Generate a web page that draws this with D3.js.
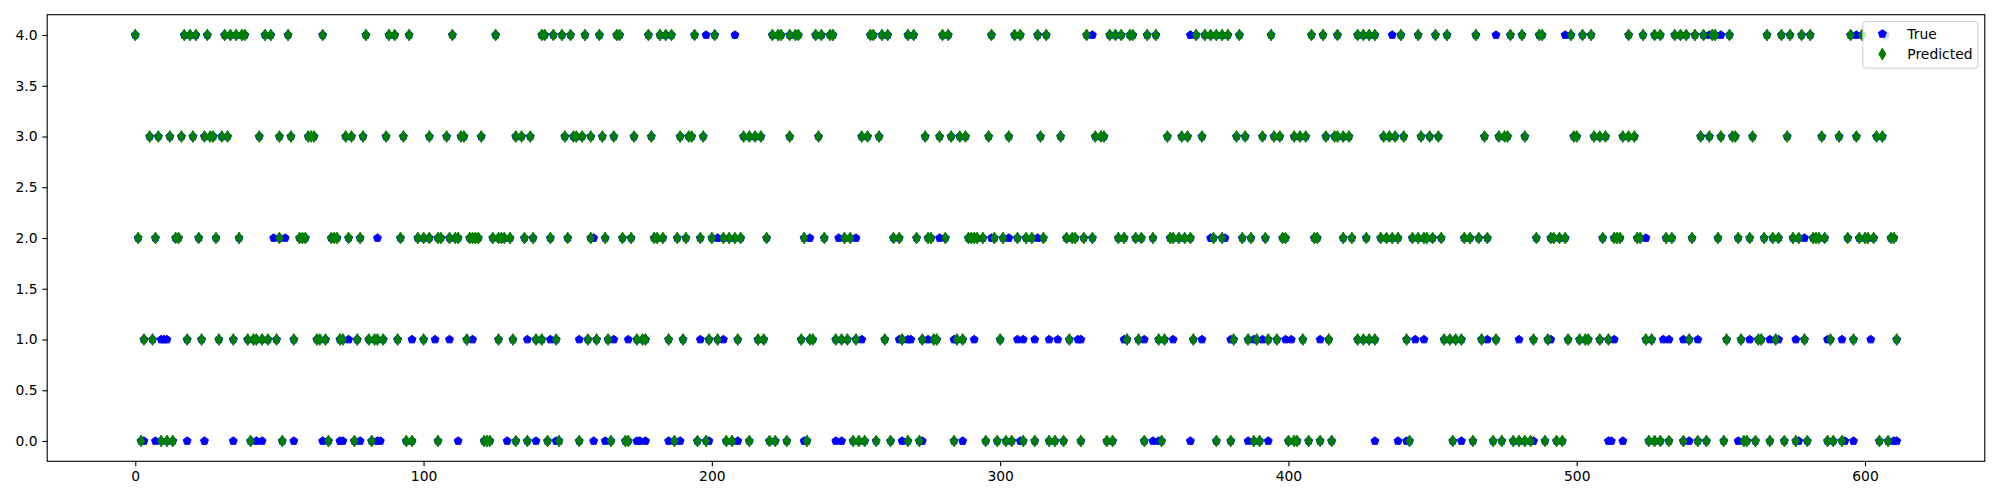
<!DOCTYPE html>
<html>
<head>
<meta charset="utf-8">
<script src="https://cdn.jsdelivr.net/npm/d3@7"></script>
<style>
html, body { margin: 0; padding: 0; background: #ffffff; }
svg { display: block; }
text { font-family: "DejaVu Sans", sans-serif; }
</style>
</head>
<body>
<svg id="chart" width="2000" height="500"></svg>
<script>
// ---------------- data ----------------
const classes = [0, 1, 2, 3, 4];
const sampleCount = 612;
const xTicks = [0, 100, 200, 300, 400, 500, 600];
const yTicks = [0.0, 0.5, 1.0, 1.5, 2.0, 2.5, 3.0, 3.5, 4.0];
const seriesNames = ["True", "Predicted"];

// indices where the predicted class is 0..4 (green diamonds)
const predicted0 = [2, 9, 11, 13, 40, 51, 67, 76, 82, 94, 96, 105, 121, 122, 123, 132, 136, 143, 147, 154, 165, 170, 171, 187, 195, 198, 205, 207, 213, 220, 222, 226, 233, 249, 251, 253, 257, 262, 268, 272, 284, 295, 299, 302, 304, 308, 312, 317, 319, 322, 328, 337, 339, 350, 356, 375, 380, 388, 390, 400, 402, 403, 407, 411, 415, 442, 457, 464, 471, 474, 478, 480, 482, 484, 489, 493, 495, 525, 527, 529, 532, 537, 542, 545, 551, 558, 559, 562, 567, 572, 576, 580, 587, 589, 592, 605, 608];
const predicted1 = [3, 6, 18, 23, 29, 34, 39, 41, 42, 44, 46, 49, 55, 63, 64, 66, 71, 72, 77, 81, 83, 84, 86, 91, 100, 115, 126, 131, 139, 141, 146, 157, 160, 164, 174, 176, 177, 185, 190, 199, 202, 209, 216, 218, 231, 234, 235, 243, 245, 247, 250, 260, 266, 273, 277, 278, 285, 287, 300, 324, 344, 348, 355, 357, 367, 381, 386, 389, 393, 396, 405, 414, 424, 426, 428, 430, 441, 454, 456, 458, 460, 467, 472, 485, 490, 497, 501, 503, 504, 508, 511, 524, 526, 539, 552, 557, 563, 564, 569, 579, 588, 596, 611];
const predicted2 = [1, 7, 14, 15, 22, 28, 36, 50, 57, 58, 59, 68, 69, 70, 74, 78, 92, 98, 100, 102, 105, 106, 109, 111, 112, 116, 117, 118, 119, 124, 126, 127, 128, 130, 135, 138, 144, 150, 158, 163, 169, 172, 180, 181, 183, 188, 191, 196, 200, 204, 206, 208, 210, 219, 232, 239, 246, 248, 263, 265, 271, 275, 276, 281, 289, 290, 291, 292, 294, 298, 301, 306, 309, 311, 315, 323, 325, 326, 329, 332, 341, 343, 347, 349, 353, 359, 360, 362, 364, 366, 374, 377, 384, 387, 392, 398, 399, 409, 410, 419, 422, 427, 432, 434, 436, 438, 443, 445, 447, 448, 450, 453, 461, 463, 466, 469, 486, 491, 492, 494, 496, 509, 513, 514, 515, 521, 522, 531, 533, 540, 549, 556, 560, 565, 568, 570, 575, 577, 582, 583, 584, 586, 594, 598, 600, 601, 603, 609, 610];
const predicted3 = [5, 8, 12, 16, 20, 24, 26, 27, 30, 32, 43, 50, 54, 60, 61, 62, 73, 75, 79, 87, 93, 102, 108, 113, 114, 120, 132, 134, 137, 149, 152, 153, 155, 158, 162, 166, 173, 179, 189, 192, 193, 197, 211, 213, 215, 217, 227, 237, 252, 254, 258, 274, 279, 283, 286, 288, 296, 303, 314, 321, 333, 335, 336, 358, 363, 365, 370, 382, 385, 391, 395, 397, 402, 404, 406, 413, 416, 417, 419, 421, 433, 435, 437, 440, 446, 449, 452, 468, 473, 475, 476, 482, 499, 500, 506, 508, 510, 516, 518, 520, 543, 546, 550, 554, 555, 561, 573, 585, 591, 597, 604, 606];
const predicted4 = [0, 17, 19, 21, 25, 31, 33, 35, 37, 38, 45, 47, 53, 65, 80, 88, 90, 95, 110, 125, 141, 142, 145, 148, 151, 156, 161, 167, 168, 178, 182, 184, 186, 194, 201, 221, 223, 224, 227, 229, 230, 236, 238, 241, 242, 255, 256, 259, 261, 268, 270, 280, 282, 297, 305, 307, 313, 316, 330, 338, 340, 342, 345, 346, 351, 354, 368, 371, 373, 375, 377, 379, 383, 394, 408, 412, 417, 424, 426, 428, 430, 439, 445, 451, 455, 465, 477, 481, 487, 488, 498, 502, 505, 518, 523, 527, 529, 534, 536, 538, 541, 544, 547, 548, 553, 566, 571, 574, 578, 581, 595, 599, 607];

// indices where the true class differs from the prediction (visible blue pentagons)
const trueMismatch0 = [3, 7, 18, 24, 34, 42, 44, 55, 65, 71, 72, 78, 84, 85, 112, 129, 139, 146, 159, 163, 174, 175, 177, 185, 189, 199, 209, 232, 243, 245, 266, 273, 287, 307, 353, 355, 366, 386, 393, 430, 438, 441, 460, 485, 511, 512, 516, 539, 556, 577, 593, 596, 610, 611];
const trueMismatch1 = [9, 10, 11, 74, 96, 104, 109, 117, 136, 144, 154, 166, 171, 196, 204, 252, 265, 268, 269, 275, 284, 291, 306, 308, 312, 317, 320, 327, 328, 343, 350, 360, 370, 380, 388, 391, 399, 401, 411, 444, 447, 469, 480, 491, 513, 530, 532, 537, 542, 560, 567, 570, 576, 587, 592, 602];
const trueMismatch2 = [48, 52, 84, 159, 202, 234, 244, 250, 279, 297, 303, 313, 373, 378, 524, 579];
const trueMismatch3 = [];
const trueMismatch4 = [198, 208, 332, 366, 436, 472, 496, 546, 550, 597];

// ---------------- build series ----------------
const predictedByClass = [predicted0, predicted1, predicted2, predicted3, predicted4];
const mismatchByClass = [trueMismatch0, trueMismatch1, trueMismatch2, trueMismatch3, trueMismatch4];

const predictedPoints = [];
const truePoints = [];
classes.forEach((c, k) => {
  predictedByClass[k].forEach(i => { predictedPoints.push({i: i, v: c}); truePoints.push({i: i, v: c}); });
  mismatchByClass[k].forEach(i => truePoints.push({i: i, v: c}));
});
truePoints.sort((a, b) => a.i - b.i);
predictedPoints.sort((a, b) => a.i - b.i);

// ---------------- layout ----------------
const W = 2000, H = 500;
const plot = {left: 47.2, right: 1984.8, top: 14.7, bottom: 461.3};
const svg = d3.select("#chart");

const xMin = 0, xMax = sampleCount - 1;
const xPad = (xMax - xMin) * 0.05;
const x = d3.scaleLinear().domain([xMin - xPad, xMax + xPad]).range([plot.left, plot.right]);
const y = d3.scaleLinear().domain([-0.2, 4.2]).range([plot.bottom, plot.top]);

const BLUE = "#0000ff", GREEN = "#008000";

// marker paths (matplotlib 'p' and 'd' at markersize 6pt @ 100dpi)
const ms = 6 * 100 / 72;
function pentagonPath(r) {
  const pts = d3.range(5).map(k => {
    const a = Math.PI / 2 + k * 2 * Math.PI / 5;
    return [r * Math.cos(a), -r * Math.sin(a)];
  });
  return "M" + pts.map(p => p[0].toFixed(3) + "," + p[1].toFixed(3)).join("L") + "Z";
}
function thinDiamondPath(s) {
  const hh = s * Math.SQRT2 / 2, hw = hh * 0.6;
  return `M0,${-hh}L${hw},0L0,${hh}L${-hw},0Z`;
}
const pentD = pentagonPath(ms / 2);
const diaD = thinDiamondPath(ms);

const clipId = "plotclip";
svg.append("defs").append("clipPath").attr("id", clipId)
  .append("rect").attr("x", plot.left).attr("y", plot.top)
  .attr("width", plot.right - plot.left).attr("height", plot.bottom - plot.top);

const gData = svg.append("g").attr("clip-path", `url(#${clipId})`);

gData.append("g").selectAll("path").data(truePoints).join("path")
  .attr("d", pentD)
  .attr("transform", d => `translate(${x(d.i)},${y(d.v)})`)
  .attr("fill", BLUE).attr("stroke", BLUE).attr("stroke-width", 1);

gData.append("g").selectAll("path").data(predictedPoints).join("path")
  .attr("d", diaD)
  .attr("transform", d => `translate(${x(d.i)},${y(d.v)})`)
  .attr("fill", GREEN).attr("stroke", GREEN).attr("stroke-width", 1);

// ---------------- axes ----------------
const tickLen = 3.5 * 100 / 72;
const fontPx = 10 * 100 / 72;

const xAxis = d3.axisBottom(x).tickValues(xTicks).tickFormat(d3.format("d"))
  .tickSizeInner(tickLen).tickSizeOuter(0).tickPadding(tickLen);
const yAxis = d3.axisLeft(y).tickValues(yTicks).tickFormat(d3.format(".1f"))
  .tickSizeInner(tickLen).tickSizeOuter(0).tickPadding(tickLen);

const gx = svg.append("g").attr("transform", `translate(0,${plot.bottom})`).call(xAxis);
const gy = svg.append("g").attr("transform", `translate(${plot.left},0)`).call(yAxis);
[gx, gy].forEach(g => {
  g.select(".domain").remove();
  g.selectAll(".tick line").attr("stroke", "#000").attr("stroke-width", 0.8 * 100 / 72);
  g.selectAll(".tick text").attr("fill", "#000").style("font-size", fontPx + "px")
    .style("font-family", "'DejaVu Sans', sans-serif");
});

// spines
svg.append("rect").attr("x", plot.left).attr("y", plot.top)
  .attr("width", plot.right - plot.left).attr("height", plot.bottom - plot.top)
  .attr("fill", "none").attr("stroke", "#000").attr("stroke-width", 0.8 * 100 / 72);

// ---------------- legend ----------------
const lg = svg.append("g");
const lgRight = plot.right - 0.5 * fontPx;
const lgTop = plot.top + 0.5 * fontPx;
const lgW = 115, lgH = 46.5;
lg.append("rect").attr("x", lgRight - lgW).attr("y", lgTop).attr("width", lgW).attr("height", lgH)
  .attr("rx", 2.8).attr("ry", 2.8)
  .attr("fill", "#ffffff").attr("fill-opacity", 0.8)
  .attr("stroke", "#cccccc").attr("stroke-width", 1);
const legendItems = [
  {name: seriesNames[0], d: pentD, color: BLUE},
  {name: seriesNames[1], d: diaD, color: GREEN}
];
legendItems.forEach((it, k) => {
  const cy = lgTop + 12.2 + k * 20.2;
  lg.append("path").attr("d", it.d).attr("transform", `translate(${lgRight - lgW + 19.5},${cy})`)
    .attr("fill", it.color).attr("stroke", it.color).attr("stroke-width", 1);
  lg.append("text").attr("x", lgRight - lgW + 44.5).attr("y", cy).attr("dy", "0.35em")
    .style("font-size", fontPx + "px").attr("fill", "#000").text(it.name);
});
</script>
</body>
</html>
